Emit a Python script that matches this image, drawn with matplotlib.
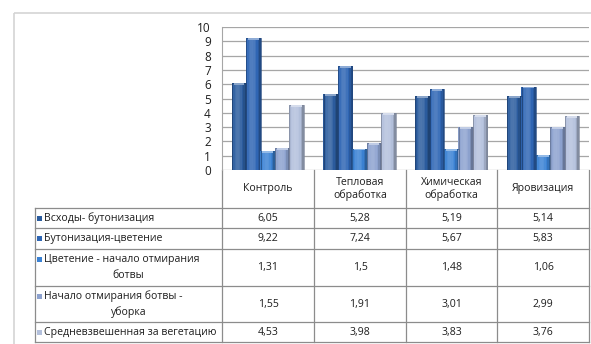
"""
Excel-style clustered column chart with a data table underneath.
Output: out.png (591x344)
"""
import matplotlib
matplotlib.use("Agg")
import matplotlib.pyplot as plt
from matplotlib.patches import Rectangle
from matplotlib.colors import to_rgb
import numpy as np

# ---- data ----
categories = ["Контроль", "Тепловая\nобработка", "Химическая\nобработка", "Яровизация"]
series_names = [
    "Всходы- бутонизация",
    "Бутонизация-цветение",
    "Цветение - начало отмирания\nботвы",
    "Начало отмирания ботвы -\nуборка",
    "Средневзвешенная за вегетацию",
]
emergence_budding = [6.05, 5.28, 5.19, 5.14]
budding_flowering = [9.22, 7.24, 5.67, 5.83]
flowering_dieoff = [1.31, 1.5, 1.48, 1.06]
dieoff_harvest = [1.55, 1.91, 3.01, 2.99]
weighted_mean = [4.53, 3.98, 3.83, 3.76]
series = [emergence_budding, budding_flowering, flowering_dieoff,
          dieoff_harvest, weighted_mean]
cell_text = [["6,05", "5,28", "5,19", "5,14"],
             ["9,22", "7,24", "5,67", "5,83"],
             ["1,31", "1,5", "1,48", "1,06"],
             ["1,55", "1,91", "3,01", "2,99"],
             ["4,53", "3,98", "3,83", "3,76"]]
yticks = list(range(0, 11))

COLORS = ["#2b5c9e", "#2f66b4", "#3b82d4", "#8da2cf", "#b3c0dc"]
GRID = "#a6a6a6"
LINE = "#8c8c8c"
TXT = "#1e1e1e"
FS = 7.6
plt.rcParams["font.family"] = ["Open Sans", "DejaVu Sans"]

W, H = 591, 344
fig = plt.figure(figsize=(W / 100, H / 100), dpi=100)
fig.patch.set_facecolor("white")

# overlay axes in pixel coordinates for the frame and the table
ov = fig.add_axes([0, 0, 1, 1])
ov.set_xlim(0, W); ov.set_ylim(H, 0); ov.axis("off")
ov.add_patch(Rectangle((14, 13), W, H, fill=False, ec="#d4d4d4", lw=1.2))

# chart area
x_left, x_right, y_zero, y_top = 222, 589, 170, 27
ax = fig.add_axes([x_left / W, (H - y_zero) / H, (x_right - x_left) / W,
                   (y_zero - y_top) / H])
ax.set_xlim(-0.5, 3.5)
ax.set_ylim(0, 10)
ax.set_yticks(yticks)
ax.set_xticks([])
ax.tick_params(axis="y", length=0, pad=8, labelsize=8.5, labelcolor=TXT)
for s in ["top", "right", "bottom"]:
    ax.spines[s].set_visible(False)
ax.spines["left"].set_color(GRID)
ax.yaxis.grid(True, color=GRID, lw=0.9)
ax.set_axisbelow(True)
ax.patch.set_alpha(0)

x = np.arange(len(categories))
w = 0.157
nstrip = 10
# smooth horizontal shading across each bar: darker edges, light centre-left
pos = (np.arange(nstrip) + 0.5) / nstrip
shade = 0.16 - 0.7 * (pos - 0.42) ** 2 * 2.2


def tint(c, f):
    c = np.array(to_rgb(c))
    return tuple(c + (1 - c) * f) if f > 0 else tuple(c * (1 + f))


for i, (vals, col) in enumerate(zip(series, COLORS)):
    xc = x + (i - 2) * w
    for k in range(nstrip):
        xs = xc - w / 2 + (k + 0.5) * w / nstrip
        ax.bar(xs, vals, width=w / nstrip * 1.3, color=tint(col, shade[k]),
               lw=0, zorder=3, antialiased=False)
    ax.bar(xc, vals, width=w, fill=False, ec=tint(col, -0.3), lw=0.5, zorder=3.6)
    # light cap on top of each column
    ax.bar(xc, [0.13] * len(vals), bottom=np.array(vals) - 0.13, width=w * 0.75,
           color=tint(col, 0.45), lw=0, zorder=4)

# ---- data table ----
col_x = [222, 314, 406, 497, 589]
row_y = [208, 228, 249, 286, 322, 342]
label_left = 35

for yy in row_y:
    ov.plot([label_left, col_x[-1]], [yy, yy], color=LINE, lw=0.9)
for xx in col_x:
    ov.plot([xx, xx], [y_zero, row_y[-1]], color=LINE, lw=0.9)
ov.plot([label_left, label_left], [row_y[0], row_y[-1]], color=LINE, lw=0.9)

for j, cat in enumerate(categories):
    cx = (col_x[j] + col_x[j + 1]) / 2
    ov.text(cx, (y_zero + row_y[0]) / 2, cat, ha="center", va="center",
            fontsize=FS, color=TXT, linespacing=1.2)

for i, name in enumerate(series_names):
    y0, y1 = row_y[i], row_y[i + 1]
    yc = (y0 + y1) / 2
    lines = name.split("\n")
    first_y = yc if len(lines) == 1 else yc - 8
    ov.add_patch(Rectangle((37, first_y - 2.5), 5, 5, color=COLORS[i], lw=0))
    ov.text(44, first_y, lines[0], ha="left", va="center", fontsize=FS,
            color=TXT)
    if len(lines) > 1:
        ov.text((label_left + col_x[0]) / 2, yc + 8, lines[1], ha="center",
                va="center", fontsize=FS, color=TXT)
    for j, txt in enumerate(cell_text[i]):
        cx = (col_x[j] + col_x[j + 1]) / 2
        ov.text(cx, yc, txt, ha="center", va="center", fontsize=FS, color=TXT)

fig.savefig("out.png", dpi=100, facecolor="white")
